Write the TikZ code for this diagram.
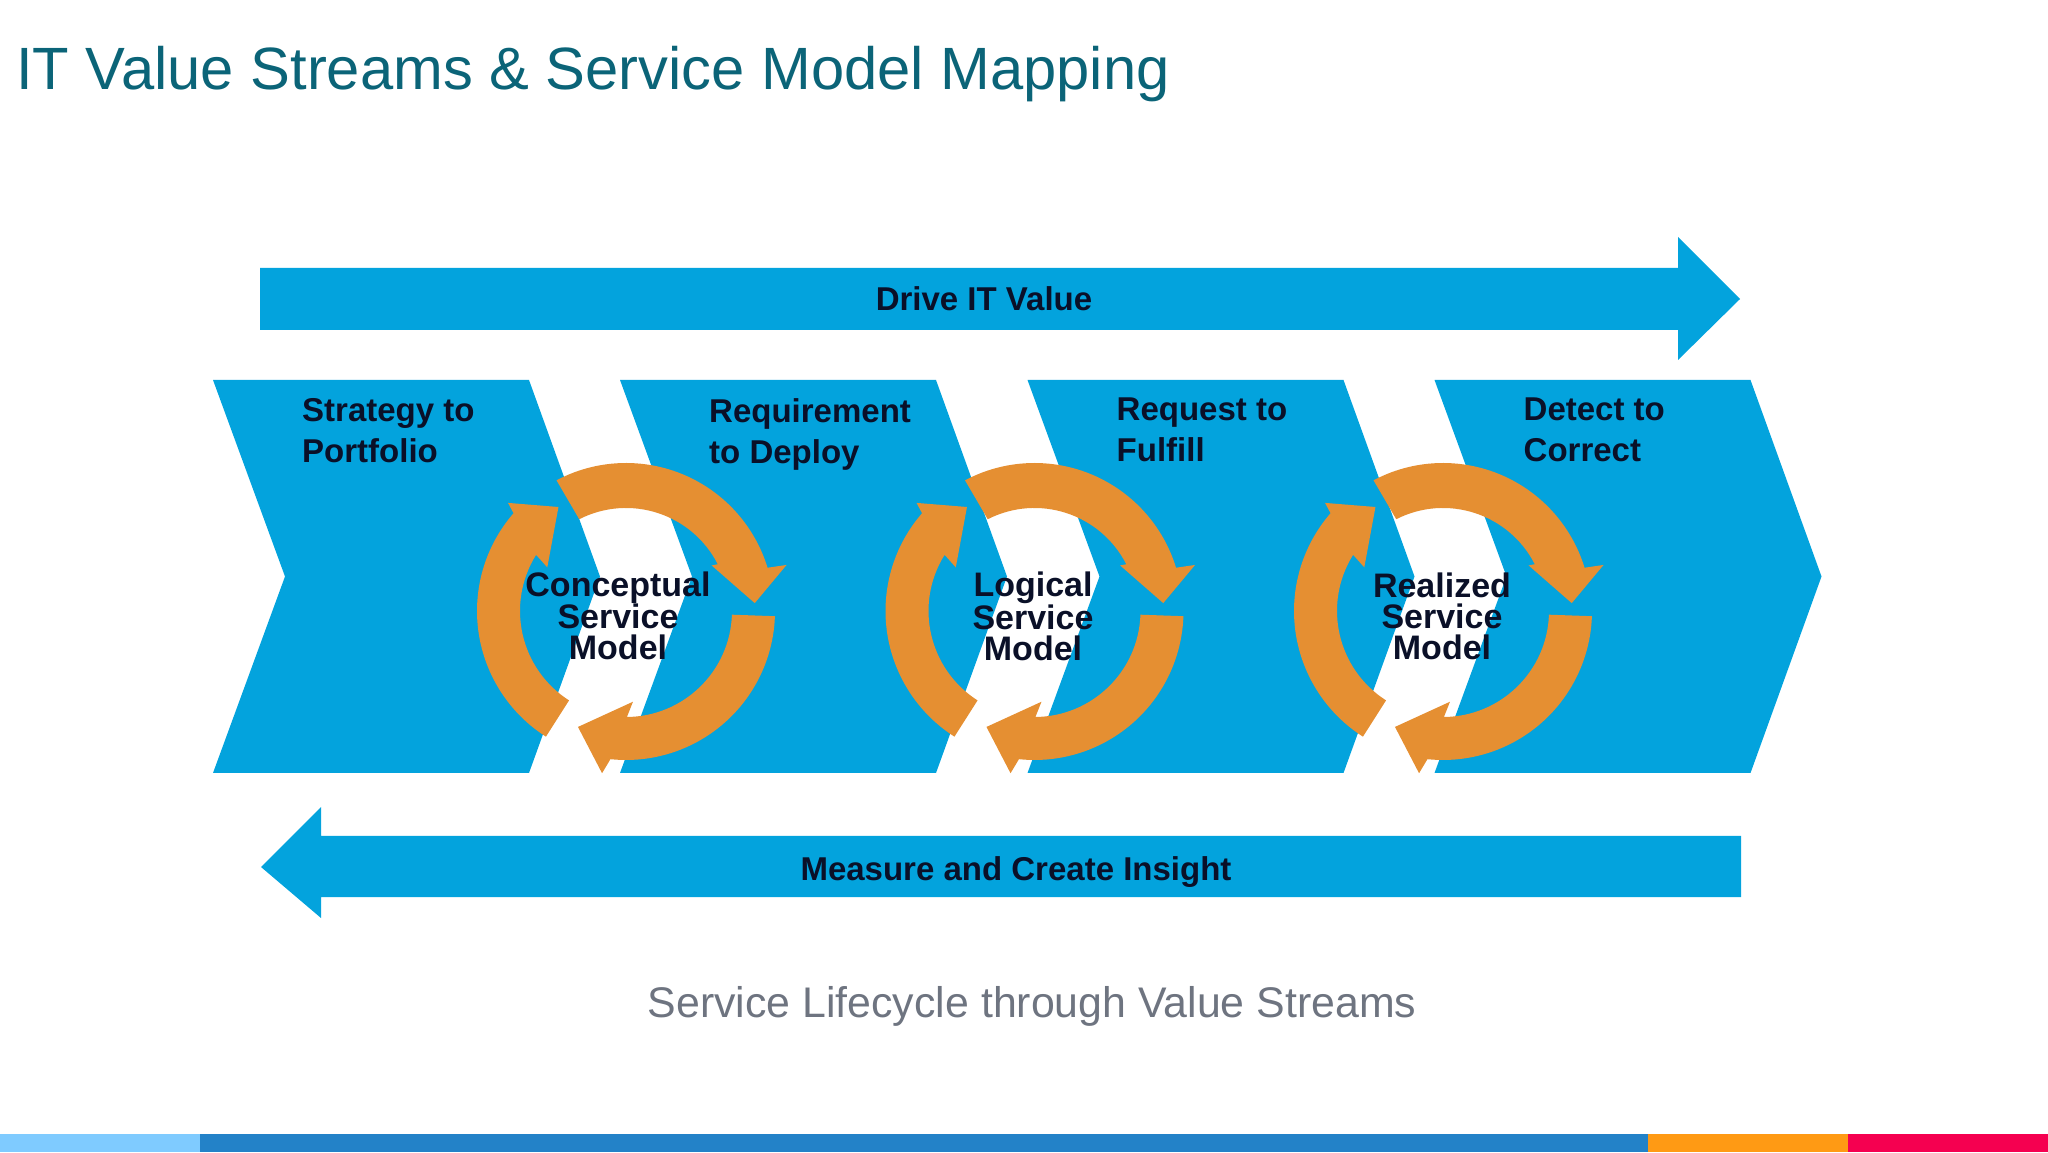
\documentclass[tikz,border=0pt]{standalone}
\usepackage{fontspec}
\setmainfont{Liberation Sans}
\definecolor{streamblue}{HTML}{03A3DD}
\definecolor{ringorange}{HTML}{E58F32}
\definecolor{inkdark}{HTML}{0A1028}
\definecolor{titleteal}{HTML}{0B6478}
\definecolor{captiongray}{HTML}{6E7480}
\begin{document}
\begin{tikzpicture}[x=1pt,y=1pt,
			stream/.style={fill=streamblue,draw=none},
			ring/.style={fill=ringorange,draw=none},
			barlabel/.style={inner sep=0,text=inkdark,font=\fontsize{33}{41}\selectfont\bfseries},
			stagelabel/.style={barlabel,anchor=north west,align=left},
			modellabel/.style={inner sep=0,text=inkdark,align=center,font=\fontsize{34}{31}\selectfont\bfseries}]
	\useasboundingbox (0,0) rectangle (2048,1152);
	\node (title) [anchor=west,inner sep=0,text=titleteal,font=\fontsize{59.7}{60}\selectfont] at (16,1078) {IT Value Streams \& Service Model Mapping};
	% top and bottom arrows
	\fill[stream] (260,884) -- (1678,884) -- (1678,915) -- (1740,853) -- (1678,792) -- (1678,822) -- (260,822) -- cycle;
	\fill[stream] (1741,316) -- (321,316) -- (321,345) -- (261,285) -- (321,234) -- (321,255) -- (1741,255) -- cycle;
	\node (drive) [barlabel] at (984,853) {Drive IT Value};
	\node (measure) [barlabel] at (1016,280) {Measure and Create Insight};
	% chevrons
	\foreach \cx/\cname/\ctext in {213/strategy/{Strategy to\\Portfolio},620/requirement/{Requirement\\to Deploy},1027.5/request/{Request to\\Fulfill},1434.5/detect/{Detect to\\Correct}} {
		\fill[stream] (\cx,772) -- ++(316,0) -- ++(71,-196.5) -- ++(-71,-196.5) -- ++(-316,0) -- ++(72,196.5) -- cycle;
		\node (\cname) [stagelabel] at (\cx+89,754) {\ctext};
	}
	% service model rings
	\foreach \rx/\rname/\rtext/\tx in {626/conceptual/{Conceptual\\Service\\Model}/618,1034.5/logical/{Logical\\Service\\Model}/1033,1443/realized/{Realized\\Service\\Model}/1442} {
		\begin{scope}[shift={(\rx,541)}]
			\fill[ring] (118:148) arc (118:17:148) -- (16:167) -- (3.5:129) -- (28:97) -- (27:103) arc (27:117:103) -- cycle;
			\fill[ring] (-2:149) arc (-2:-96:149) -- (-98.4:164) -- (-112.5:125.5) -- (-85.6:91) -- (-89.5:106) arc (-89.5:-2:106) -- cycle;
			\fill[ring] (237.5:149) arc (237.5:139:149) -- (137.5:160) -- (123:124) -- (151:90) -- (148:106) arc (148:237.5:106) -- cycle;
		\end{scope}
		\node (\rname) [modellabel] at (\tx,536) {\rtext};
	}
	\node (caption) [inner sep=0,text=captiongray,font=\fontsize{42.85}{50}\selectfont] at (1032,146) {Service Lifecycle through Value Streams};
	% footer bar
	\foreach \xa/\xb/\barcol in {0/200/7FCBFF,200/1648/2382C8,1648/1848/FF9A14,1848/2048/F50050} {
		\definecolor{barfill}{HTML}{\barcol}
		\fill[barfill] (\xa,0) rectangle (\xb,18);
	}
\end{tikzpicture}
\end{document}
